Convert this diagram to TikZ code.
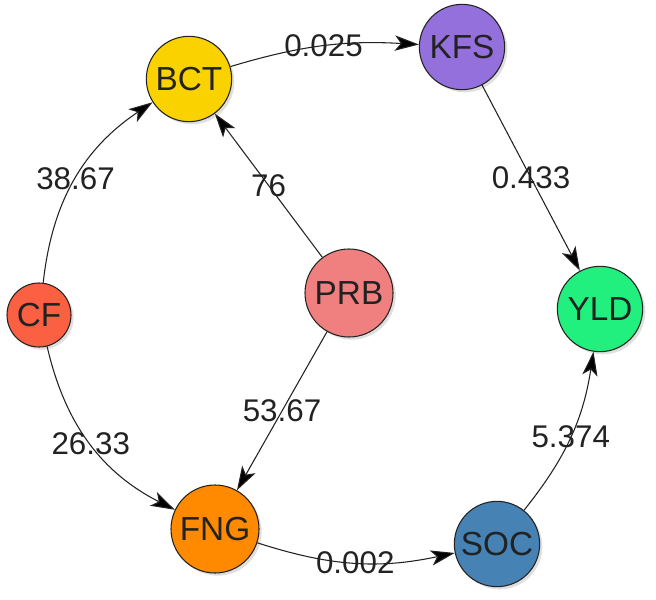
\documentclass[tikz,border=0pt]{standalone}
\usepackage{fontspec}
\setmainfont{Liberation Sans}
\usetikzlibrary{arrows.meta, shadows}

\definecolor{cbct}{HTML}{FAD200}
\definecolor{ckfs}{HTML}{9370DB}
\definecolor{ccf}{HTML}{FA6041}
\definecolor{cprb}{HTML}{F08080}
\definecolor{cyld}{HTML}{22F07E}
\definecolor{cfng}{HTML}{FF8A00}
\definecolor{csoc}{HTML}{4682B4}
\definecolor{ink}{HTML}{222222}

\tikzset{
  var/.style={circle, draw=ink, line width=0.8pt, minimum size=64pt, inner sep=0pt,
    font=\fontsize{25}{25}\selectfont, text=ink,
    drop shadow={opacity=0.25, shadow xshift=2pt, shadow yshift=-2pt}},
  weight/.style={font=\fontsize{23.5}{23.5}\selectfont, text=ink}
}

\begin{document}
\begin{tikzpicture}[x=0.75pt, y=-0.75pt]
        \useasboundingbox (0,0) rectangle (656,599);

        \node (bct) [var, fill=cbct] at (189,79) {BCT};
        \node (kfs) [var, fill=ckfs] at (462,47) {KFS};
        \node (cf)  [var, fill=ccf, minimum size=48pt] at (39,315) {CF};
        \node (prb) [var, fill=cprb, minimum size=66pt] at (349,293) {PRB};
        \node (yld) [var, fill=cyld] at (600,309) {YLD};
        \node (fng) [var, fill=cfng, minimum size=66pt] at (215,529) {FNG};
        \node (soc) [var, fill=csoc] at (497,544) {SOC};

        \path[-{Stealth[length=18pt, width=11.5pt, inset=4.5pt]}, draw=ink, line width=0.8pt]
        (bct) edge [bend left=10] node [weight] {0.025} (kfs)
        (kfs) edge node [weight] {0.433} (yld)
        (cf) edge [bend left=25] node [weight] {38.67} (bct)
        (prb) edge node [weight] {76} (bct)
        (cf) edge [bend right=25] node [weight] {26.33} (fng)
        (prb) edge node [weight] {53.67} (fng)
        (fng) edge [bend right=15] node [weight] {0.002} (soc)
        (soc) edge [bend right=15] node [weight] {5.374} (yld);

    \end{tikzpicture}
\end{document}
